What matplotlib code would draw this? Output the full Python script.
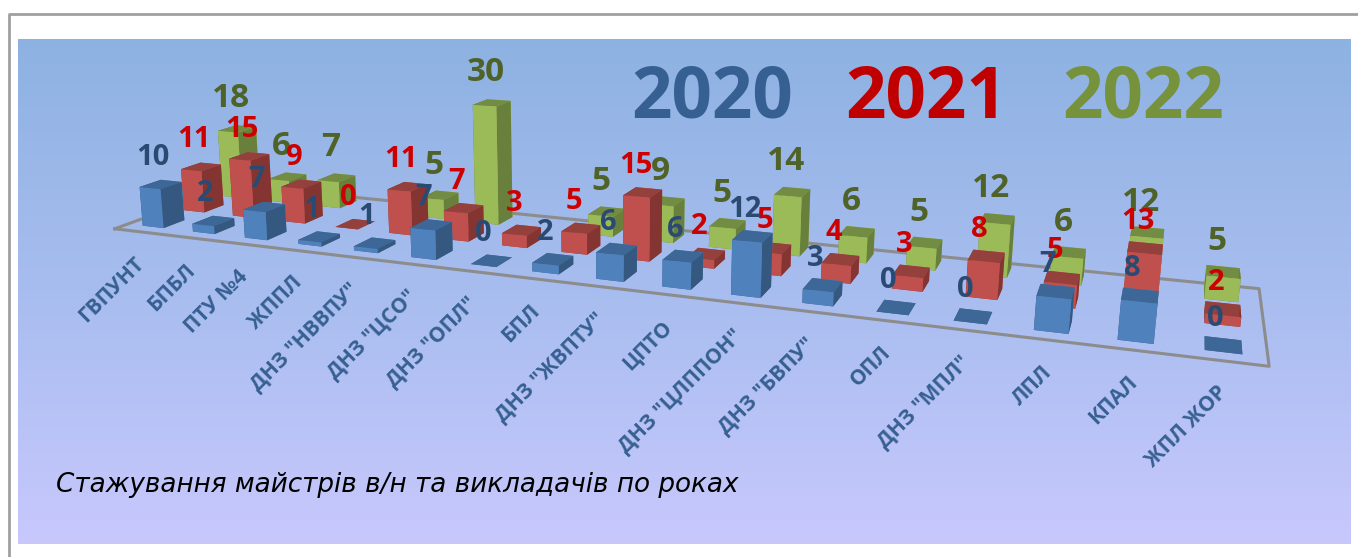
import numpy as np
from matplotlib import pyplot as plt
from matplotlib.colors import LinearSegmentedColormap

W, H = 1358, 557

categories = ['ГВПУНТ', 'БПБЛ', 'ПТУ №4', 'ЖППЛ', 'ДНЗ "НВВПУ"', 'ДНЗ "ЦСО"', 'ДНЗ "ОПЛ"', 'БПЛ', 'ДНЗ "ЖВПТУ"',
              'ЦПТО', 'ДНЗ "ЦЛППОН"', 'ДНЗ "БВПУ"', 'ОПЛ', 'ДНЗ "МПЛ"', 'ЛПЛ', 'КПАЛ', 'ЖПЛ ЖОР']
v2020 = [10, 2, 7, 1, 1, 7, 0, 2, 6, 6, 12, 3, 0, 0, 7, 8, 0]
v2021 = [11, 15, 9, 0, 11, 7, 3, 5, 15, 2, 5, 4, 3, 8, 5, 13, 2]
v2022 = [18, 6, 7, None, 5, 30, None, 5, 9, 5, 14, 6, 5, 12, 6, 12, 5]
years = ['2020', '2021', '2022']
title = 'Стажування майстрів в/н та викладачів по роках'

# front, top, side
blue = ['#4f81bd', '#3d6796', '#34587f']
red = ['#c0504d', '#94403d', '#843532']
green = ['#9bbb59', '#728c43', '#68803c']
label_colors = ['#2b4a72', '#cc0000', '#4f6228']
year_colors = ['#376092', '#c00000', '#76923c']


def camera_matrix():
    # world (category, row, value) -> picture pixels, fitted on points of the reference
    world = [(0, 0, 0), (17, 0, 0), (17, 3, 0), (0, 3, 0),
             (5.3, 2.3, 30), (5.3, 2.3, 0), (15.3, 0.3, 8), (15.3, 0.3, 0),
             (0.3, 0.3, 10), (0.3, 0.3, 0), (10.3, 2.3, 14), (10.3, 2.3, 0),
             (10.3, 0.3, 12), (10.3, 0.3, 0)]
    pix = [(115, 228), (1268, 368), (1258, 288), (232, 186),
           (473, 105), (477, 222), (1123, 300), (1119, 340),
           (140, 187), (143, 226), (774, 195), (774, 253),
           (730, 239), (729, 294)]
    rows = []
    for (x, y, z), (u, v) in zip(world, pix):
        rows.append([x, y, z, 1, 0, 0, 0, 0, -u * x, -u * y, -u * z, -u])
        rows.append([0, 0, 0, 0, x, y, z, 1, -v * x, -v * y, -v * z, -v])
    m = np.linalg.svd(np.array(rows, dtype=float))[2][-1].reshape(3, 4)
    if m[2, 3] < 0:
        m = -m
    return m / m[2, 3]


def project(x, y, z):
    u, v, w = p @ np.array([x, y, z, 1.0])
    return u / w, v / w


def draw_row(ax, values, row, colors, order):
    for i, val in enumerate(values):
        if val is None:
            continue
        # bottom, top, front, back, left, right
        face_colors = [colors[1], colors[1], colors[0], colors[0], colors[2], colors[2]]
        ax.bar3d(i + 0.3, row + 0.3, 0, 0.42, 0.5, val, color=face_colors, shade=False, zorder=order)


fig = plt.figure(figsize=(W / 100, H / 100), dpi=100, facecolor='white')
plt.rcParams['font.family'] = ['Open Sans', 'DejaVu Sans']

# background
bg = fig.add_axes([0, 0, 1, 1])
bg.axis('off')
cmap = LinearSegmentedColormap.from_list('bg', ['#8db2e2', '#a8bdef', '#c8c8fd'])
bg.imshow(np.linspace(0, 1, 256).reshape(-1, 1), cmap=cmap, aspect='auto', extent=(18, 1351, 544, 39))
bg.set_xlim(0, W)
bg.set_ylim(H, 0)
bg.plot([9, 9, W], [H, 14, 14], color='#a0a0a0', linewidth=2)

# the 3d part
ax = fig.add_axes([0, 0, 1, 1], projection='3d', computed_zorder=False)
ax.set_axis_off()
ax.patch.set_alpha(0)
ax.apply_aspect = lambda position=None: None
ax.set_position([0, 0, 1, 1])

p = camera_matrix()
to_display = np.array([[1, 0, 0], [0, -1, H], [0, 0, 1]], dtype=float)
q = ax.transData.inverted().get_matrix() @ to_display @ p
proj = np.array([q[0], q[1], [0, 0, 0, -1], q[2]])
ax.get_proj = lambda: proj

# floor
ax.plot([0, 17, 17, 0, 0], [0, 0, 3, 3, 0], [0, 0, 0, 0, 0], color='#8c8c8c', linewidth=2.2, zorder=1)

draw_row(ax, v2022, 2, green, 2)
draw_row(ax, v2021, 1, red, 3)
draw_row(ax, v2020, 0, blue, 4)

# texts go on a flat layer in picture pixels
top = fig.add_axes([0, 0, 1, 1])
top.axis('off')
top.set_xlim(0, W)
top.set_ylim(H, 0)

# value labels: row, values, size, shift from the bar top
for row, values, size, dx, dy in [(2, v2022, 24, -6, -30), (1, v2021, 21, -7, -27), (0, v2020, 21, -8, -27)]:
    for i, val in enumerate(values):
        if val is None:
            continue
        u, v = project(i + 0.51, row + 0.55, val)
        top.text(u + dx, v + dy, str(val), color=label_colors[row], fontsize=size, fontweight='bold',
                 ha='center', va='center')

# category labels
for i, name in enumerate(categories):
    u, v = project(i + 0.5, 0, 0)
    top.text(u + 1, v + 29, name, color='#376092', fontsize=15, fontweight='bold', rotation=45,
             rotation_mode='anchor', ha='right', va='center')

for year, color, cx in zip(years, year_colors, [712, 926, 1143]):
    top.text(cx, 99, year, color=color, fontsize=51, fontweight='bold', ha='center', va='center')

top.text(56, 485, title, fontsize=18.9, style='italic', color='black', ha='left', va='center',
         family=['DejaVu Sans'])

fig.savefig('out.png', dpi=100)
